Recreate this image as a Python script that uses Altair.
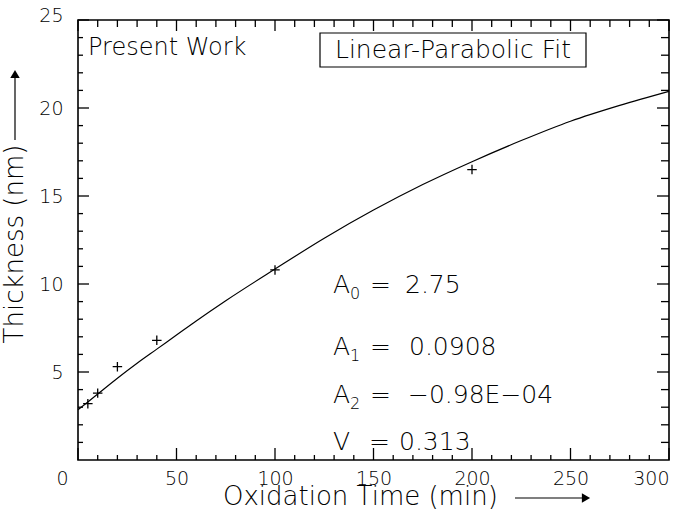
import altair as alt
import pandas as pd

# ---- data ----
meas_t = [5, 10, 20, 40, 100, 200]
meas_th = [3.2, 3.8, 5.3, 6.8, 10.8, 16.5]

fit_t = [0, 10, 20, 30, 40, 50, 60, 75, 100, 125, 150, 175, 200, 225, 250, 275, 300]
fit_th = [2.85, 3.75, 4.65, 5.5, 6.3, 7.1, 7.9, 9.05, 10.85, 12.6, 14.2, 15.65, 16.95, 18.15, 19.25, 20.15, 20.95]

x_major = [0, 50, 100, 150, 200, 250, 300]
x_minor = [v for v in range(10, 300, 10) if v % 50 != 0]
y_major = [5, 10, 15, 20, 25]
y_minor = [v for v in range(1, 25) if v % 5 != 0]

FONT = "DejaVu Sans"
FW = 200
INK = "#000000"
W, H = 591, 440
XMIN, XMAX, YMIN, YMAX = 0, 300, 0, 25

xs = alt.Scale(domain=[XMIN, XMAX], nice=False, zero=False)
ys = alt.Scale(domain=[YMIN, YMAX], nice=False, zero=False)

fit_df = pd.DataFrame({"t": fit_t, "th": fit_th})
meas_df = pd.DataFrame({"t": meas_t, "th": meas_th})

x_axis = alt.Axis(
    values=x_major, tickSize=0, domain=False, grid=False, title=None,
    labelFont=FONT, labelFontSize=19, labelFontWeight=FW, labelColor=INK, labelPadding=9,
    labelFlush=False,
    labelAlign={"condition": {"test": "datum.value == 300", "value": "right"}, "value": "center"},
    labelOffset={"condition": {"test": "datum.value == 0", "value": -16}, "value": 0},
)
y_axis = alt.Axis(
    values=y_major, tickSize=0, domain=False, grid=False, title=None,
    labelFont=FONT, labelFontSize=19, labelFontWeight=FW, labelColor=INK, labelPadding=15,
    labelFlush=False,
    labelOffset={"condition": {"test": "datum.value == 25", "value": -5}, "value": 0},
)

line = alt.Chart(fit_df).mark_line(color=INK, strokeWidth=1.2, interpolate="monotone").encode(
    x=alt.X("t:Q", scale=xs, axis=x_axis), y=alt.Y("th:Q", scale=ys, axis=y_axis))

pts = alt.Chart(meas_df).mark_point(
    shape="M-1,0L1,0M0,-1L0,1", size=90, filled=False, color=INK, strokeWidth=1.3, opacity=1
).encode(x=alt.X("t:Q", scale=xs), y=alt.Y("th:Q", scale=ys))

# ---- inward frame ticks (axis decoration), placed at the tick values ----
ONE = pd.DataFrame({"a": [0]})


def px_x(v):
    return (v - XMIN) / (XMAX - XMIN) * W


def px_y(v):
    return H - (v - YMIN) / (YMAX - YMIN) * H


def seg(x0, x1, y0, y1):
    return alt.Chart(ONE).mark_rule(color=INK, strokeWidth=1.3).encode(
        x=alt.value(x0), x2=alt.value(x1), y=alt.value(y0), y2=alt.value(y1))


ticks = []
for vals, Lb, Lt in [(x_major, 12, 11), (x_minor, 5, 7)]:
    for v in vals:
        p = px_x(v)
        ticks.append(seg(p, p, H, H - Lb))
        ticks.append(seg(p, p, 0, Lt))
for vals, Ll, Lr in [(y_major, 11, 12), (y_minor, 5, 8)]:
    for v in vals:
        p = px_y(v)
        ticks.append(seg(0, Ll, p, p))
        ticks.append(seg(W, W - Lr, p, p))

frame = alt.Chart(pd.DataFrame({"a": [9]})).mark_rect(
    fill=None, stroke=INK, strokeWidth=1.6
).encode(x=alt.value(0), x2=alt.value(W), y=alt.value(0), y2=alt.value(H))


def txt(s, x, y, size=22, align="left", angle=0):
    return alt.Chart(pd.DataFrame({"s": [s]})).mark_text(
        font=FONT, fontSize=size, fontWeight=FW, color=INK, align=align, baseline="middle", angle=angle
    ).encode(text="s:N", x=alt.value(x), y=alt.value(y))


box = alt.Chart(pd.DataFrame({"a": [1]})).mark_rect(
    fill=None, stroke=INK, strokeWidth=1.2
).encode(x=alt.value(242), x2=alt.value(508), y=alt.value(13), y2=alt.value(47))

ann = [
    txt("Present Work", 10, 28, 24),
    box,
    txt("Linear-Parabolic Fit", 375, 30, 25, align="center"),
    txt("A", 255, 265, 25), txt("0", 272, 274, 16), txt("=", 292, 265, 25), txt("2.75", 327, 265, 25),
    txt("A", 255, 327, 25), txt("1", 272, 336, 16), txt("=", 292, 327, 25), txt("0.0908", 331, 327, 25),
    txt("A", 255, 375, 25), txt("2", 272, 384, 16), txt("=", 292, 375, 25), txt("\u22120.98E\u221204", 330, 375, 25),
    txt("V", 255, 422, 25), txt("=", 291, 422, 25), txt("0.313", 321, 422, 25),
    # axis titles
    txt("Oxidation Time (min)", 145, 477, 26),
    txt("Thickness (nm)", -63, 224, 26, align="center", angle=270),
]

# arrows for axis titles
x_arrow = alt.Chart(pd.DataFrame({"a": [2]})).mark_rule(color=INK, strokeWidth=1.2).encode(
    x=alt.value(437), x2=alt.value(506), y=alt.value(478))
x_head = alt.Chart(pd.DataFrame({"a": [3]})).mark_point(
    shape="triangle-right", filled=True, color=INK, size=90, opacity=1).encode(
    x=alt.value(508), y=alt.value(478))
y_arrow = alt.Chart(pd.DataFrame({"a": [4]})).mark_rule(color=INK, strokeWidth=1.2).encode(
    x=alt.value(-63), y=alt.value(120), y2=alt.value(55))
y_head = alt.Chart(pd.DataFrame({"a": [5]})).mark_point(
    shape="triangle-up", filled=True, color=INK, size=90, opacity=1).encode(
    x=alt.value(-63), y=alt.value(54))

chart = alt.layer(line, frame, pts, *ann, x_arrow, x_head, y_arrow, y_head, *ticks).properties(
    width=W, height=H,
    autosize=alt.AutoSizeParams(type="none"),
    padding={"left": 78, "top": 20, "right": 7, "bottom": 64},
    background="white",
).configure_view(strokeWidth=0)

chart.save("out.html", embed_options={"renderer": "svg", "actions": False})
